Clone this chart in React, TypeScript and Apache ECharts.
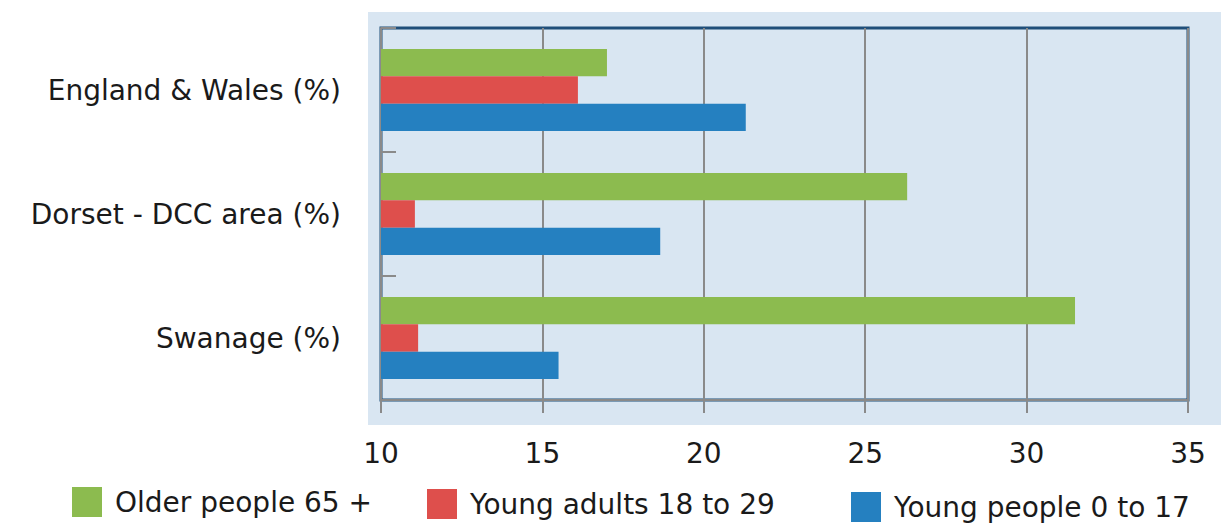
import React, { useEffect, useRef } from "react";
import * as echarts from "echarts";

const categories = ["England & Wales (%)", "Dorset - DCC area (%)", "Swanage (%)"];
const seriesNames = ["Older people 65 +", "Young adults 18 to 29", "Young people 0 to 17"];
const olderPeople = [17.0, 26.3, 31.5];
const youngAdults = [16.1, 11.05, 11.15];
const youngPeople = [21.3, 18.65, 15.5];
const colors = ["#8cbb4f", "#de4f4c", "#2580c0"];
const xTicks = { min: 10, max: 35, interval: 5 };

const FONT = "DejaVu Sans";

export default function App() {
  const ref = useRef<HTMLDivElement>(null);
  useEffect(() => {
    if (!ref.current) return;
    const chart = echarts.init(ref.current, null, { renderer: "svg" });
    const values = [olderPeople, youngAdults, youngPeople];
    const legendPos = [
      { left: 72, top: 487 },
      { left: 427, top: 489 },
      { left: 851, top: 492 },
    ];
    chart.setOption({
      animation: false,
      backgroundColor: "#ffffff",
      textStyle: { fontFamily: FONT },
      graphic: [
        {
          type: "rect",
          z: -10,
          silent: true,
          shape: { x: 368, y: 12, width: 853, height: 413 },
          style: { fill: "#d9e6f2" },
        },
      ],
      grid: {
        left: 381,
        right: 33,
        top: 28,
        bottom: 123,
        show: true,
        backgroundColor: "transparent",
        borderColor: "#1f4e79",
        borderWidth: 3,
      },
      legend: seriesNames.map((n, i) => ({
        data: [n],
        left: legendPos[i].left,
        top: legendPos[i].top,
        padding: 0,
        itemWidth: 30,
        itemHeight: 30,
        icon: "rect",
        itemGap: 12,
        textStyle: { fontFamily: FONT, fontSize: 28, color: "#1a1a1a", padding: [0, 0, 0, 8] },
      })),
      xAxis: {
        type: "value",
        min: xTicks.min,
        max: xTicks.max,
        interval: xTicks.interval,
        axisLine: { show: true, lineStyle: { color: "#8a8a8a", width: 2 } },
        axisTick: { show: true, length: 13, lineStyle: { color: "#8a8a8a", width: 2 } },
        splitLine: { show: true, lineStyle: { color: "#8a8a8a", width: 2 } },
        axisLabel: { fontFamily: FONT, fontSize: 28, color: "#1a1a1a", margin: 39 },
      },
      yAxis: {
        type: "category",
        inverse: true,
        data: categories,
        axisLine: { show: true, lineStyle: { color: "#8a8a8a", width: 2 } },
        axisTick: { show: true, inside: true, length: 15, lineStyle: { color: "#8a8a8a", width: 2 } },
        axisLabel: { fontFamily: FONT, fontSize: 28, color: "#1a1a1a", margin: 40 },
      },
      series: seriesNames.map((n, i) => ({
        name: n,
        type: "bar",
        data: values[i],
        itemStyle: { color: colors[i] },
        barGap: "0%",
        barCategoryGap: "34%",
      })),
    });
    return () => chart.dispose();
  }, []);
  return <div ref={ref} style={{ position: "absolute", left: 0, top: 0, width: 1221, height: 523 }} />;
}
